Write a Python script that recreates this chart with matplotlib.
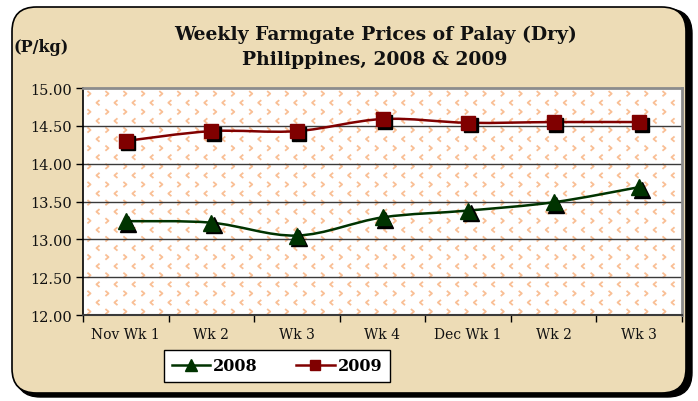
import matplotlib
matplotlib.use("Agg")
import matplotlib.pyplot as plt
import numpy as np
from matplotlib.patches import FancyBboxPatch, PathPatch
from matplotlib.path import Path
from matplotlib.lines import Line2D
from matplotlib.transforms import offset_copy

# ── Data ──────────────────────────────────────────────────────────────────
weeks = ["Nov Wk 1", "Wk 2", "Wk 3", "Wk 4", "Dec Wk 1", "Wk 2", "Wk 3"]
price_2008 = [13.24, 13.22, 13.05, 13.29, 13.38, 13.49, 13.69]
price_2009 = [14.30, 14.43, 14.43, 14.59, 14.54, 14.55, 14.55]
y_ticks = [12.0, 12.5, 13.0, 13.5, 14.0, 14.5, 15.0]

GREEN = "#003300"
RED = "#800000"
PARCH = "#EDDCB6"
CHEV = "#F9BF95"
SERIF = "DejaVu Serif"

# open chevron markers for the plot-area pattern
CHEV_R = Path([(-0.6, 1), (0.6, 0), (-0.6, -1)],
              [Path.MOVETO, Path.LINETO, Path.LINETO])
CHEV_L = Path([(0.6, 1), (-0.6, 0), (0.6, -1)],
              [Path.MOVETO, Path.LINETO, Path.LINETO])


def smooth_path(xs, ys):
    """Excel-style smoothed line: cubic Bezier through every point."""
    pts = np.column_stack([xs, ys]).astype(float)
    n = len(pts)
    verts = [pts[0]]
    codes = [Path.MOVETO]
    for i in range(n - 1):
        p0 = pts[i - 1] if i > 0 else pts[i]
        p1 = pts[i]
        p2 = pts[i + 1]
        p3 = pts[i + 2] if i + 2 < n else pts[i + 1]
        c1 = p1 + (p2 - p0) / 6
        c2 = p2 - (p3 - p1) / 6
        verts += [c1, c2, p2]
        codes += [Path.CURVE4] * 3
    return Path(verts, codes)


fig = plt.figure(figsize=(6.98, 4.02), dpi=100)
fig.patch.set_facecolor("white")

# ── Rounded parchment frame with black shadow ─────────────────────────────
W, H = 698, 402
shadow = FancyBboxPatch((16 / W, 4 / H), 676 / W, 388 / H,
                        boxstyle="round,pad=0,rounding_size=0.035",
                        transform=fig.transFigure, facecolor="black",
                        edgecolor="black", mutation_aspect=W / H, zorder=-2)
frame = FancyBboxPatch((12 / W, 8 / H), 674 / W, 386 / H,
                       boxstyle="round,pad=0,rounding_size=0.035",
                       transform=fig.transFigure, facecolor=PARCH,
                       edgecolor="black", linewidth=1.2,
                       mutation_aspect=W / H, zorder=-1)
fig.patches.extend([shadow, frame])

# ── Plot area ─────────────────────────────────────────────────────────────
ax = fig.add_axes([83 / W, 1 - 316 / H, 599 / W, 227 / H])
ax.set_facecolor("white")
x = np.arange(len(weeks))
ax.set_xlim(-0.5, len(weeks) - 0.5)
ax.set_ylim(y_ticks[0], y_ticks[-1])

# chevron pattern in the plot area
for r, yy in enumerate(np.arange(0.015, 1.0, 0.04)):
    shift = 0.0 if r % 2 == 0 else 0.015
    xs = np.arange(0.01 + shift, 1.0, 0.03)
    ax.scatter(xs, np.full(len(xs), yy),
               marker=CHEV_R if r % 2 == 0 else CHEV_L, s=14,
               facecolors="none", edgecolors=CHEV, linewidths=1.3,
               transform=ax.transAxes, zorder=0.5, clip_on=True)

for yv in y_ticks[1:-1]:
    ax.axhline(yv, color="#3a3a3a", linewidth=1.0, zorder=1)

# lines
for vals, col in [(price_2008, GREEN), (price_2009, RED)]:
    ax.add_patch(PathPatch(smooth_path(x, vals), fill=False, edgecolor=col,
                           linewidth=1.8, zorder=2))

# marker shadows then markers
sh = offset_copy(ax.transData, fig=fig, x=2.5, y=-2.5, units="dots")
ax.plot(x, price_2008, "^", color="black", markersize=11, transform=sh,
        zorder=3, linestyle="none")
ax.plot(x, price_2009, "s", color="black", markersize=10, transform=sh,
        zorder=3, linestyle="none")
ax.plot(x, price_2008, "^", color=GREEN, markersize=11, zorder=4,
        linestyle="none")
ax.plot(x, price_2009, "s", color=RED, markersize=10, zorder=4,
        linestyle="none")

# spines and ticks
ax.spines["top"].set_color("#8c8c8c")
ax.spines["right"].set_color("#8c8c8c")
ax.spines["top"].set_linewidth(2)
ax.spines["right"].set_linewidth(2)
ax.spines["left"].set_color("black")
ax.spines["left"].set_linewidth(1.2)
ax.spines["bottom"].set_color("#3a3a3a")
ax.spines["bottom"].set_linewidth(1.5)

ax.set_yticks(y_ticks)
ax.set_yticklabels([f"{v:.2f}" for v in y_ticks], fontfamily=SERIF,
                   fontsize=10.5)
ax.set_xticks(x)
ax.set_xticklabels(weeks, fontfamily=SERIF, fontsize=10)
ax.set_xticks(np.arange(-0.5, len(weeks)), minor=True)
ax.tick_params(axis="x", which="major", length=0, pad=9)
ax.tick_params(axis="x", which="minor", length=5, width=1, direction="out")
ax.tick_params(axis="y", length=5, width=1, direction="out", pad=3)
for lbl in ax.get_xticklabels() + ax.get_yticklabels():
    lbl.set_color("#111111")

# ── Titles ────────────────────────────────────────────────────────────────
fig.text(375 / W, 1 - 35 / H, "Weekly Farmgate Prices of Palay (Dry)",
         fontfamily=SERIF, fontweight="bold", fontsize=13.5, ha="center",
         va="center", color="#111111")
fig.text(375 / W, 1 - 60 / H, "Philippines, 2008 & 2009",
         fontfamily=SERIF, fontweight="bold", fontsize=13.5, ha="center",
         va="center", color="#111111")
fig.text(41 / W, 1 - 48 / H, "(P/kg)", fontfamily=SERIF, fontweight="bold",
         fontsize=11.5, ha="center", va="center", color="#111111")

# ── Legend ────────────────────────────────────────────────────────────────
handles = [
    Line2D([], [], color=GREEN, marker="^", markersize=8, linewidth=1.8),
    Line2D([], [], color=RED, marker="s", markersize=7, linewidth=1.8),
]
leg = fig.legend(handles, ["2008", "2009"], loc="center",
                 bbox_to_anchor=(277 / W, 1 - 367 / H), ncol=2,
                 frameon=True, fancybox=False, edgecolor="black",
                 framealpha=1, handlelength=2.4, columnspacing=2.4,
                 borderpad=0.45, handletextpad=0.2,
                 prop={"family": SERIF, "weight": "bold", "size": 11.5})
leg.get_frame().set_linewidth(1.0)

fig.savefig("out.png", dpi=100, facecolor="white")
